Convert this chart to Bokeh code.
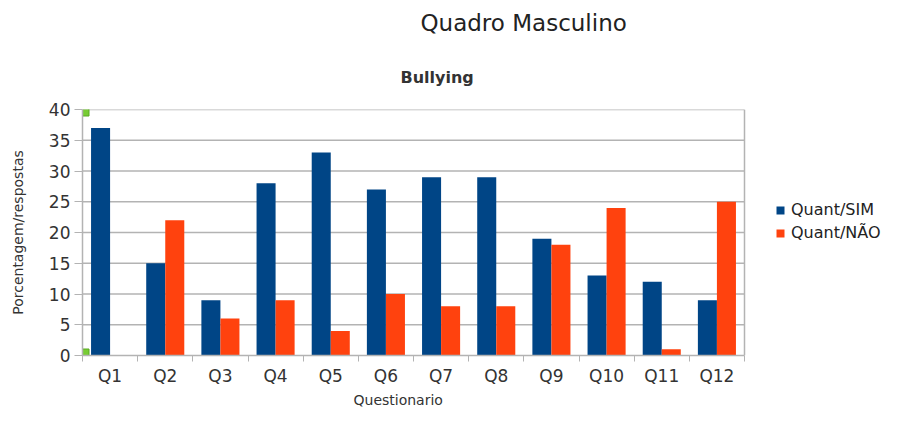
import numpy as np
from bokeh.plotting import figure
from bokeh.models import (ColumnDataSource, FixedTicker, Legend, LegendItem, Title, Range1d)
from bokeh.transform import dodge
from bokeh.embed import file_html
from bokeh.resources import INLINE

categories = ["Q1", "Q2", "Q3", "Q4", "Q5", "Q6", "Q7", "Q8", "Q9", "Q10", "Q11", "Q12"]
quant_sim = [37, 15, 9, 28, 33, 27, 29, 29, 19, 13, 12, 9]
quant_nao = [0, 22, 6, 9, 4, 10, 8, 8, 18, 24, 1, 25]
y_ticks = [0, 5, 10, 15, 20, 25, 30, 35, 40]

FONT = "DejaVu Sans"
BLUE = "#004586"
ORANGE = "#ff420e"
GRID = "#b3b3b3"
TXT = "#333333"

n = len(categories)
xs = np.arange(1, n + 1)
src = ColumnDataSource(dict(x=xs, sim=quant_sim, nao=quant_nao, cat=categories))

# the frame runs to the right edge so the legend can sit beside the bars;
# the visible plot area covers only the categories
W, H, LEFT, PLOT_W = 883, 408, 82, 662
frame_w = W - LEFT
x0, x1 = 0.5, n + 0.5
ymin, ymax = y_ticks[0], y_ticks[-1]
p = figure(width=W, height=H, output_backend="svg", toolbar_location=None,
           x_range=Range1d(x0, x0 + n * frame_w / PLOT_W), y_range=Range1d(ymin, ymax),
           min_border_left=LEFT, min_border_right=0, min_border_bottom=40, min_border_top=40)
p.xgrid.visible = False
p.ygrid.visible = False
p.outline_line_color = None

# grid lines and right border, limited to the category area
p.segment(x0=x0, x1=x1, y0=y_ticks[1:], y1=y_ticks[1:], line_color=GRID, line_width=1.5)
p.segment(x0=[x1], x1=[x1], y0=[ymin], y1=[ymax], line_color=GRID, line_width=1.5)

bw = 0.345
rs = p.vbar(x=dodge("x", -bw / 2), top="sim", width=bw, source=src, fill_color=BLUE, line_color=None)
rn = p.vbar(x=dodge("x", bw / 2), top="nao", width=bw, source=src, fill_color=ORANGE, line_color=None)

# selection handles at axis ends
p.scatter(x=[x0] * 2, y=[ymin, ymax], marker="square", size=13,
          fill_color="#77cc33", line_color="#5aaa22", line_width=1)

p.xaxis.ticker = FixedTicker(ticks=list(xs), minor_ticks=list(np.arange(x0, x1 + 0.5, 1.0)))
p.xaxis.major_label_overrides = {int(i): c for i, c in zip(xs, categories)}
p.xaxis.bounds = (x0, x1)
p.xaxis.major_tick_in = 0
p.xaxis.major_tick_out = 0
p.xaxis.minor_tick_in = 0
p.xaxis.minor_tick_out = 6
p.xaxis.minor_tick_line_color = GRID
p.xaxis.axis_line_color = GRID
p.xaxis.axis_line_width = 1.5
p.xaxis.major_label_standoff = 4
p.xaxis.major_label_text_font = FONT
p.xaxis.major_label_text_font_size = "17px"
p.xaxis.major_label_text_color = TXT
p.add_layout(Title(text="Questionario", text_font=FONT, text_font_size="14px",
                   text_font_style="normal", text_color=TXT, align="left", offset=271,
                   standoff=2), "below")

p.yaxis.ticker = FixedTicker(ticks=y_ticks)
p.yaxis.minor_tick_line_color = None
p.yaxis.major_tick_in = 0
p.yaxis.major_tick_out = 8
p.yaxis.major_tick_line_color = GRID
p.yaxis.axis_line_color = GRID
p.yaxis.axis_line_width = 1.5
p.yaxis.major_label_standoff = 4
p.yaxis.axis_label = "Porcentagem/respostas"
p.yaxis.axis_label_standoff = 20
p.yaxis.axis_label_text_font = FONT
p.yaxis.axis_label_text_font_size = "14px"
p.yaxis.axis_label_text_font_style = "normal"
p.yaxis.axis_label_text_color = TXT
p.yaxis.major_label_text_font = FONT
p.yaxis.major_label_text_font_size = "17px"
p.yaxis.major_label_text_color = TXT

p.title.text = "Quadro Masculino"
p.title.text_font = FONT
p.title.text_font_size = "23px"
p.title.text_font_style = "normal"
p.title.text_color = "#222222"
p.title.align = "left"
p.title.offset = 338
p.title.standoff = 14
p.add_layout(Title(text="Bullying", text_font=FONT, text_font_size="16px",
                   text_font_style="bold", text_color=TXT, align="left", offset=318,
                   standoff=46), "above")

legend = Legend(items=[LegendItem(label="Quant/SIM", renderers=[rs]),
                       LegendItem(label="Quant/NÃO", renderers=[rn])],
                location=(693, 113), label_text_font=FONT, label_text_font_size="16px",
                label_text_color="#222222", glyph_width=10, glyph_height=10, label_standoff=6,
                border_line_color=None, background_fill_alpha=0, spacing=4, padding=3, margin=0)
p.add_layout(legend)

open("out.html", "w").write(file_html(p, INLINE))
